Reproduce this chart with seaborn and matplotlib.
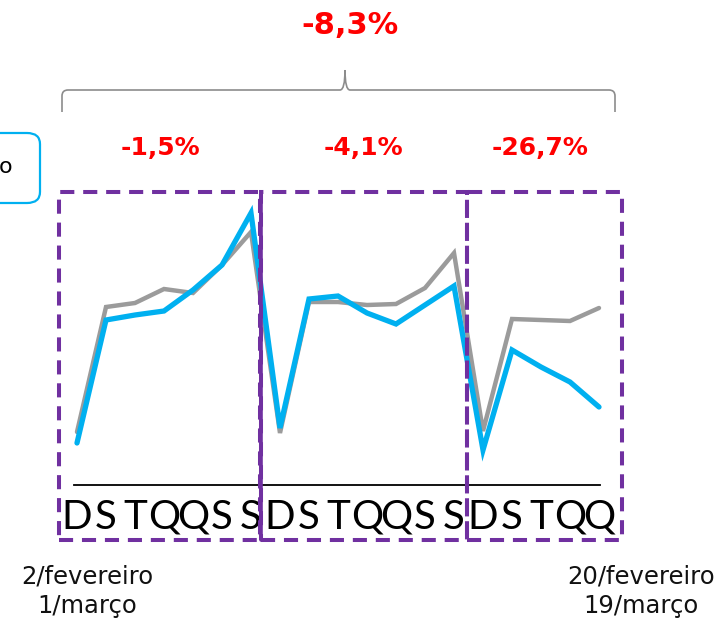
import numpy as np
import pandas as pd
import matplotlib
matplotlib.use("Agg")
import matplotlib.pyplot as plt
from matplotlib.patches import Rectangle, FancyBboxPatch, PathPatch
from matplotlib.lines import Line2D
from matplotlib.path import Path
import seaborn as sns

# ---- data ----
days = ["D", "S", "T", "Q", "Q", "S", "S",
        "D", "S", "T", "Q", "Q", "S", "S",
        "D", "S", "T", "Q", "Q"]
gray_values = [53, 178, 182, 196, 192, 220, 253,
               52, 183, 183, 180, 181, 197, 232,
               54, 166, 165, 164, 177]
blue_values = [42, 165, 170, 174, 195, 220, 272,
               57, 186, 189, 172, 161, 180, 199,
               35, 135, 118, 103, 78]
total_change = "-8,3%"
week_changes = ["-1,5%", "-4,1%", "-26,7%"]
left_dates = ["2/fevereiro", "1/março"]
right_dates = ["20/fevereiro", "19/março"]
box_text = "o"

W, H = 722, 618
sns.set_style("white")
plt.rcParams["font.family"] = ["DejaVu Sans"]

fig = plt.figure(figsize=(W / 100, H / 100), dpi=100)


def fx(x):
    return x / W


def fy(y):
    return 1 - y / H


# axes spans box region: x 59..622 px, y 192..485 px
ax = fig.add_axes([fx(59), fy(485), (622 - 59) / W, (485 - 192) / H])

df = pd.DataFrame({
    "idx": list(range(len(days))) * 2,
    "value": gray_values + blue_values,
    "serie": ["gray"] * len(days) + ["blue"] * len(days),
})
sns.lineplot(data=df, x="idx", y="value", hue="serie",
             palette={"gray": "#9B9B9B", "blue": "#00B0F0"},
             ax=ax, legend=False, sort=False)
lines = ax.get_lines()
lines[0].set_linewidth(3.2)
lines[1].set_linewidth(3.8)
for ln in lines:
    ln.set_solid_capstyle("round")
    ln.set_solid_joinstyle("miter")

step = 29.0
ax.set_xlim(-(77 - 59) / step, 18 + (622 - 599) / step)
ax.set_ylim(0, 293)
ax.set_xticks(range(len(days)))
ax.set_xticklabels(days, fontsize=29, fontweight="normal",
                   family=["Lato", "DejaVu Sans"], color="black")
ax.tick_params(axis="x", length=0, pad=10)
ax.set_yticks([])
ax.set_xlabel("")
ax.set_ylabel("")
for s in ["top", "left", "right"]:
    ax.spines[s].set_visible(False)
ax.spines["bottom"].set_color("black")
ax.spines["bottom"].set_linewidth(1.3)
ax.spines["bottom"].set_bounds(-0.1, 18.05)
ax.patch.set_alpha(0)

# ---- dashed week boxes ----
purple = "#7030A0"
boxes = [(59, 260), (261, 467), (467, 622)]
for x0, x1 in boxes:
    r = Rectangle((fx(x0), fy(540)), (x1 - x0) / W, (540 - 192) / H,
                  transform=fig.transFigure, fill=False, edgecolor=purple,
                  linewidth=2.9, linestyle=(0, (3.5, 2.2)), zorder=5)
    fig.add_artist(r)
# overlapping edges between week 1 and week 2 appear as one solid line
fig.add_artist(Line2D([fx(260.5), fx(260.5)], [fy(192), fy(540)],
                      transform=fig.transFigure, color=purple,
                      linewidth=2.6, zorder=5))

# ---- brace ----
verts = [(62, 112), (62, 96), (62, 90), (68, 90), (340, 90), (345, 90), (345, 70),
         (345, 90), (350, 90), (609, 90), (615, 90), (615, 96), (615, 112)]
codes = [Path.MOVETO, Path.LINETO, Path.CURVE3, Path.CURVE3, Path.LINETO,
         Path.CURVE3, Path.CURVE3, Path.CURVE3, Path.CURVE3, Path.LINETO,
         Path.CURVE3, Path.CURVE3, Path.LINETO]
brace = Path([(fx(x), fy(y)) for x, y in verts], codes)
fig.add_artist(PathPatch(brace, transform=fig.transFigure, fill=False,
                         edgecolor="#8C8C8C", linewidth=1.2))

# ---- cut-off rounded box on the left ----
fb = FancyBboxPatch((fx(-40), fy(203)), 80 / W, 70 / H,
                    boxstyle="round,pad=0,rounding_size=0.018",
                    transform=fig.transFigure, fill=False,
                    edgecolor="#00B0F0", linewidth=1.6)
fig.add_artist(fb)
fig.text(fx(6), fy(167), box_text, fontsize=16, ha="center", va="center",
         color="black")

# ---- percentage labels ----
red = "#FF0000"
fig.text(fx(350), fy(26), total_change, fontsize=22, fontweight="bold",
         color=red, ha="center", va="center")
for label, xc in zip(week_changes, [160, 363, 540]):
    fig.text(fx(xc), fy(148), label, fontsize=18, fontweight="bold",
             color=red, ha="center", va="center")

# ---- date labels ----
for i, t in enumerate(left_dates):
    fig.text(fx(87), fy(576 + 30 * i), t, fontsize=17.5, ha="center",
             va="center", color="#111111")
for i, t in enumerate(right_dates):
    fig.text(fx(641), fy(576 + 30 * i), t, fontsize=17.5, ha="center",
             va="center", color="#111111")

fig.savefig("out.png", dpi=100)
